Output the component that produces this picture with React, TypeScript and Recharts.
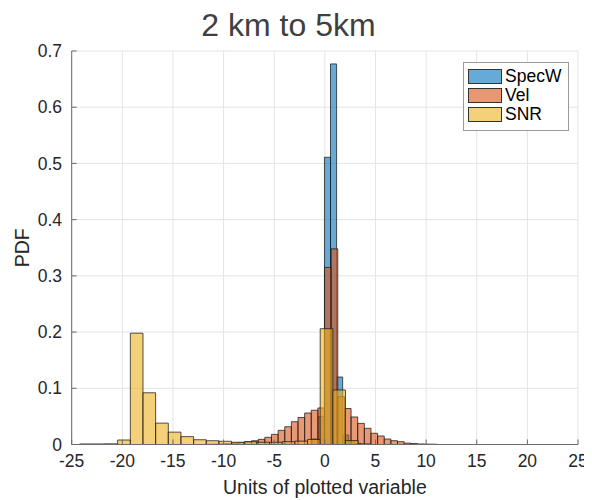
import React from 'react';
import { ComposedChart, XAxis, YAxis, CartesianGrid, ReferenceArea, Legend } from 'recharts';

// Axis ticks
const xTicks = [-25, -20, -15, -10, -5, 0, 5, 10, 15, 20, 25];
const yTicks = [0, 0.1, 0.2, 0.3, 0.4, 0.5, 0.6, 0.7];

// Series names / colours (MATLAB default order)
const seriesNames = ['SpecW', 'Vel', 'SNR'];
const seriesColors = ['#0072BD', '#D95319', '#EDB120'];

// SpecW histogram (pdf)
const specwStart = -1.24;
const specwWidth = 0.6;
const specwPdf = [0.01, 0.05, 0.511, 0.677, 0.12, 0.017, 0.005, 0.002];

// Vel histogram (pdf)
const velStart = -11.82;
const velWidth = 0.655;
const velPdf = [
  0.0005, 0.0007, 0.001, 0.0015, 0.0025, 0.0035, 0.005, 0.0067, 0.0092, 0.0128,
  0.018, 0.0252, 0.0316, 0.0405, 0.048, 0.056, 0.061, 0.065,
  0.315, 0.348, 0.085,
  0.064, 0.049, 0.0376, 0.0288, 0.02, 0.0151, 0.0098, 0.0068, 0.005, 0.0025,
  0.0018, 0.001, 0.0007, 0.0005,
];

// SNR histogram (pdf)
const snrStart = -24.21;
const snrWidth = 1.25;
const snrPdf = [
  0.001, 0.001, 0.0012, 0.008, 0.198, 0.092, 0.038, 0.022, 0.014, 0.0085,
  0.0067, 0.0057, 0.004, 0.005, 0.004, 0.004, 0.005, 0.006, 0.009,
  0.206, 0.097, 0.007, 0.001,
];

type Bin = { x1: number; x2: number; y: number };
const toBins = (start: number, width: number, values: number[]): Bin[] =>
  values.map((v, i) => ({ x1: start + i * width, x2: start + (i + 1) * width, y: v }));

const series = [
  { name: seriesNames[0], color: seriesColors[0], bins: toBins(specwStart, specwWidth, specwPdf) },
  { name: seriesNames[1], color: seriesColors[1], bins: toBins(velStart, velWidth, velPdf) },
  { name: seriesNames[2], color: seriesColors[2], bins: toBins(snrStart, snrWidth, snrPdf) },
];

const FONT = '"Liberation Sans", Arial, Helvetica, sans-serif';
const AXIS_COLOR = '#6b6b6b';
const TEXT_COLOR = '#262626';

const LegendBox = () => (
  <div
    style={{
      background: '#fff',
      border: '1px solid #9a9a9a',
      width: 106,
      height: 69,
      boxSizing: 'border-box',
      padding: '4px 0 0 4px',
      fontFamily: FONT,
    }}
  >
    {seriesNames.map((n, i) => (
      <div key={n} style={{ display: 'flex', alignItems: 'center', height: 19 }}>
        <div
          style={{
            width: 34,
            height: 15,
            boxSizing: 'border-box',
            background: seriesColors[i],
            border: '1px solid #333',
            position: 'relative',
          }}
        >
          <div style={{ position: 'absolute', inset: 0, background: '#fff', opacity: 0.4 }} />
        </div>
        <span style={{ marginLeft: 3, fontSize: 17.5, color: '#000', lineHeight: '19px' }}>{n}</span>
      </div>
    ))}
  </div>
);

export default function App() {
  return (
    <div style={{ position: 'relative', width: 584, height: 490, fontFamily: FONT }}>
      <div
        style={{
          position: 'absolute',
          top: 0.7,
          left: 280.5,
          transform: 'translateX(-50%)',
          fontSize: 32,
          lineHeight: '32px',
          color: '#404040',
          whiteSpace: 'nowrap',
          zIndex: 2,
        }}
      >
        2 km to 5km
      </div>
      <ComposedChart
        width={584}
        height={490}
        margin={{ top: 43, right: 14, bottom: 0, left: 0 }}
        data={[]}
        style={{ fontFamily: FONT }}
      >
        <CartesianGrid stroke="#e4e4e4" strokeWidth={1} />
        <XAxis
          xAxisId={0}
          type="number"
          dataKey="x"
          domain={[-25, 25]}
          ticks={xTicks}
          allowDataOverflow
          height={53.5}
          tickSize={-5}
          tickMargin={15.5}
          stroke={AXIS_COLOR}
          tick={{ fill: TEXT_COLOR, fontSize: 17.5 }}
          label={{
            value: 'Units of plotted variable',
            position: 'insideBottom',
            offset: 4,
            fill: TEXT_COLOR,
            fontSize: 19.5,
          }}
        />
        <XAxis
          xAxisId="top"
          orientation="top"
          type="number"
          domain={[-25, 25]}
          ticks={xTicks}
          allowDataOverflow
          height={0}
          tickSize={-5}
          tickFormatter={() => ''}
          stroke={AXIS_COLOR}
        />
        <YAxis
          yAxisId={0}
          type="number"
          domain={[0, 0.7]}
          ticks={yTicks}
          allowDataOverflow
          width={63.7}
          tickSize={-5}
          tickMargin={14.7}
          stroke={AXIS_COLOR}
          tick={{ fill: TEXT_COLOR, fontSize: 17.5 }}
          tickFormatter={(v: number) => (v === 0 ? '0' : v.toFixed(1))}
          label={{
            value: 'PDF',
            angle: -90,
            position: 'insideLeft',
            offset: 14,
            fill: TEXT_COLOR,
            fontSize: 19.5,
            style: { textAnchor: 'middle' },
          }}
        />
        <YAxis
          yAxisId="right"
          orientation="right"
          type="number"
          domain={[0, 0.7]}
          ticks={yTicks}
          allowDataOverflow
          width={0}
          tickSize={-5}
          tickFormatter={() => ''}
          stroke={AXIS_COLOR}
        />
        {series.map((s) =>
          s.bins.map((b, i) => (
            <ReferenceArea
              key={`${s.name}-${i}`}
              xAxisId={0}
              yAxisId={0}
              x1={b.x1}
              x2={b.x2}
              y1={0}
              y2={b.y}
              fill={s.color}
              fillOpacity={0.6}
              stroke="#1a1a1a"
              strokeOpacity={0.75}
              strokeWidth={1}
              ifOverflow="hidden"
            />
          ))
        )}
        <Legend
          content={() => <LegendBox />}
          layout="horizontal"
          verticalAlign="middle"
          wrapperStyle={{ position: 'absolute', left: 455, top: 54, width: 106, height: 69 }}
        />
      </ComposedChart>
    </div>
  );
}
